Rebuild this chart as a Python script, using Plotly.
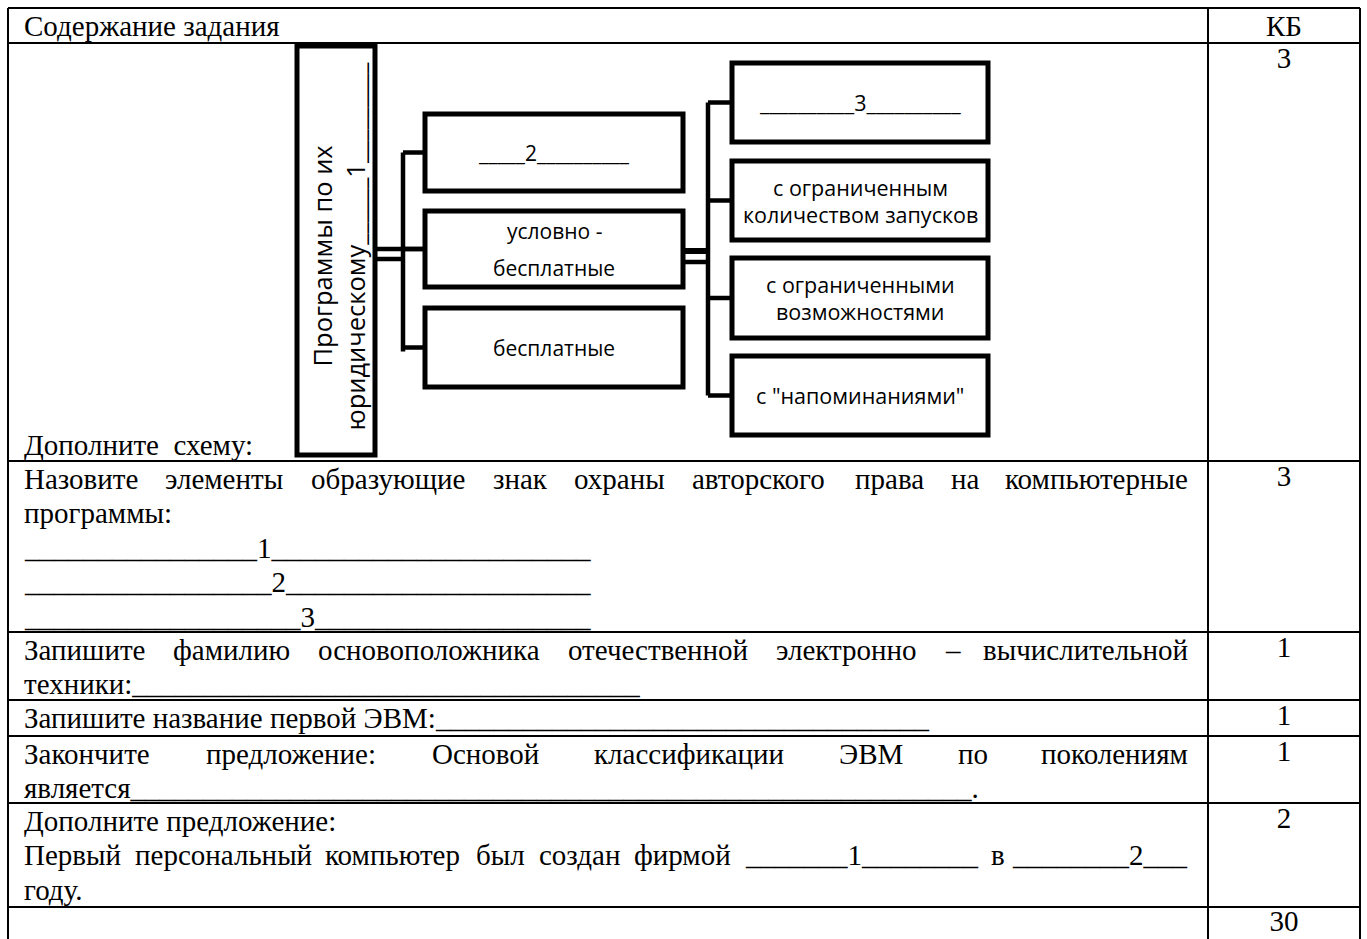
import plotly.graph_objects as go

# ---------------- data ----------------
header_texts = ["Содержание задания", "КБ"]
kb_scores = ["3", "3", "1", "1", "1", "2", "30"]

scheme_caption = "Дополните\u00a0 схему:"
scheme_root = ["Программы по их", "юридическому______1_________"]
scheme_level1 = [["_____2__________"], ["условно -", "бесплатные"], ["бесплатные"]]
scheme_level2 = [["__________3__________"], ["с ограниченным", "количеством запусков"],
                 ["с ограниченными", "возможностями"], ['с "напоминаниями"']]

row_copyright = [
    ("Назовите элементы образующие знак охраны авторского права на компьютерные", True),
    ("программы:", False),
    ("_" * 16 + "1" + "_" * 22, False),
    ("_" * 17 + "2" + "_" * 21, False),
    ("_" * 19 + "3" + "_" * 19, False),
]
row_founder = [
    ("Запишите фамилию основоположника отечественной электронно – вычислительной", True),
    ("техники:" + "_" * 35, False),
]
row_first_computer = [
    ("Запишите название первой ЭВМ:" + "_" * 34, False),
]
row_generations = [
    ("Закончите предложение: Основой классификации ЭВМ по поколениям", True),
    ("является" + "_" * 58 + ".", False),
]
row_pc = [
    ("Дополните предложение:", False),
    ("Первый персональный компьютер был создан фирмой _______1________ в ________2___", True),
    ("году.", False),
]
row_total = []
task_rows = [row_copyright, row_founder, row_first_computer, row_generations, row_pc, row_total]

# ---------------- layout constants ----------------
W, H = 1367, 939
SERIF = "Liberation Serif"
SANS = "Open Sans"
FS = 29
DS = 21
X_LEFT, X_DIV, X_RIGHT = 8, 1208, 1360
ROW_BOUNDS = [8, 43, 461, 632, 700, 736, 803, 907, 939]
TX0, TX1 = 22, 1190
LINE0, PITCH = 17.5, 34.5

# approximate Times glyph widths (em) for justification
CW = {
    'а': .444, 'б': .509, 'в': .472, 'г': .410, 'д': .509, 'е': .444, 'ж': .691, 'з': .395,
    'и': .535, 'й': .535, 'к': .486, 'л': .499, 'м': .633, 'н': .535, 'о': .500, 'п': .535,
    'р': .500, 'с': .444, 'т': .437, 'у': .500, 'ф': .648, 'х': .500, 'ц': .535, 'ч': .503,
    'ш': .770, 'щ': .770, 'ъ': .517, 'ы': .672, 'ь': .456, 'э': .429, 'ю': .747, 'я': .474,
    'З': .501, 'Н': .722, 'П': .722, 'О': .722, 'Э': .653, 'В': .667, 'М': .889, 'Д': .682,
    '_': .5, '–': .5, ':': .278, '.': .25, ' ': .25,
}


def tw(s):
    return sum(CW.get(c, .5) for c in s) * FS


fig = go.Figure()
ann = []
shapes = []


def line(x0, y0, x1, y1, w=2):
    shapes.append(dict(type="line", x0=x0, y0=y0, x1=x1, y1=y1, xref="x", yref="y",
                       line=dict(color="black", width=w)))


def text(x, y, s, xa="left", font=SERIF, size=FS, angle=0):
    ann.append(dict(x=x, y=y, xref="x", yref="y", text=s, showarrow=False,
                    xanchor=xa, yanchor="middle", textangle=angle,
                    font=dict(family=font, size=size, color="black")))


# ---------------- table grid ----------------
line(X_LEFT, ROW_BOUNDS[0], X_LEFT, H + 5)
line(X_RIGHT, ROW_BOUNDS[0], X_RIGHT, H + 5)
line(X_DIV, ROW_BOUNDS[0], X_DIV, H + 5)
for yb in ROW_BOUNDS[:-1]:
    line(X_LEFT, yb, X_RIGHT, yb)

# header
text(TX0, ROW_BOUNDS[0] + LINE0, header_texts[0])
text((X_DIV + X_RIGHT) / 2, ROW_BOUNDS[0] + LINE0, header_texts[1], xa="center")

# scheme caption
text(TX0, ROW_BOUNDS[2] - 16, scheme_caption)

# task rows
for r, rows in enumerate(task_rows):
    top = ROW_BOUNDS[r + 2]
    for i, (s, just) in enumerate(rows):
        y = top + LINE0 + PITCH * i
        if just:
            words = s.split(" ")
            widths = [tw(w) for w in words]
            gap = (TX1 - TX0 - sum(widths)) / (len(words) - 1)
            x = TX0
            for k, (w, wd) in enumerate(zip(words, widths)):
                if k == len(words) - 1:
                    text(TX1, y, w, xa="right")
                else:
                    text(x, y, w)
                x += wd + gap
        else:
            text(TX0, y, s)

# KB scores via a text trace
kb_rows = [1, 2, 3, 4, 5, 6, 7]
kb_y = [ROW_BOUNDS[r] + LINE0 for r in kb_rows]
kb_y[-1] = (ROW_BOUNDS[7] + ROW_BOUNDS[8]) / 2 + 1
fig.add_trace(go.Scatter(
    x=[(X_DIV + X_RIGHT) / 2] * len(kb_scores),
    y=kb_y,
    text=kb_scores, mode="text", textposition="middle center",
    textfont=dict(family=SERIF, size=FS, color="black"), hoverinfo="skip"))

# ---------------- scheme ----------------
ROOT = (297, 46, 375, 455)
L1_X = (425, 683)
L1_Y = [(114, 191), (211, 287), (308, 387)]
L2_X = (732, 988)
L2_Y = [(63, 142), (161, 240), (258, 338), (356, 435)]
BUS1, BUS2 = 403, 708
BW, CWID = 5, 4.5


def rect(x0, y0, x1, y1):
    shapes.append(dict(type="rect", x0=x0, y0=y0, x1=x1, y1=y1, xref="x", yref="y",
                       line=dict(color="black", width=BW), fillcolor="white"))


rect(*ROOT)
cx_root = (ROOT[0] + ROOT[2]) / 2
cy_root = (ROOT[1] + ROOT[3]) / 2
text(cx_root - 15, cy_root + 6, scheme_root[0], xa="center", font=SANS, size=25.5, angle=-90)
text(cx_root + 18, cy_root - 4, scheme_root[1], xa="center", font=SANS, size=25.5, angle=-90)

l1_mid = [(a + b) / 2 for a, b in L1_Y]
line(BUS1, l1_mid[0], BUS1, l1_mid[-1] + 4, CWID)
for m in l1_mid:
    line(BUS1, m, L1_X[0], m, CWID)
line(ROOT[2], l1_mid[1], L1_X[0], l1_mid[1], CWID)
line(ROOT[2], l1_mid[1] + 10, BUS1, l1_mid[1] + 10, CWID)
for (y0, y1), labels in zip(L1_Y, scheme_level1):
    rect(L1_X[0], y0, L1_X[1], y1)
    cy = (y0 + y1) / 2
    sp = 37
    for j, s in enumerate(labels):
        yy = cy + (j - (len(labels) - 1) / 2) * sp
        text((L1_X[0] + L1_X[1]) / 2, yy, s, xa="center", font=SANS, size=DS)

l2_mid = [(a + b) / 2 for a, b in L2_Y]
line(BUS2, l2_mid[0], BUS2, l2_mid[-1], CWID)
for m in l2_mid:
    line(BUS2, m, L2_X[0], m, CWID)
line(L1_X[1], l1_mid[1] + 2, BUS2, l1_mid[1] + 2, 6)
line(L1_X[1], l1_mid[1] + 13, BUS2, l1_mid[1] + 13, CWID)
for (y0, y1), labels in zip(L2_Y, scheme_level2):
    rect(L2_X[0], y0, L2_X[1], y1)
    cy = (y0 + y1) / 2
    sp = 27
    for j, s in enumerate(labels):
        yy = cy + (j - (len(labels) - 1) / 2) * sp
        text((L2_X[0] + L2_X[1]) / 2, yy, s, xa="center", font=SANS, size=DS + 0.5)

fig.update_layout(
    width=W, height=H, margin=dict(l=0, r=0, t=0, b=0),
    paper_bgcolor="white", plot_bgcolor="white", showlegend=False,
    xaxis=dict(range=[0, W], visible=False, fixedrange=True),
    yaxis=dict(range=[H, 0], visible=False, fixedrange=True),
    shapes=shapes, annotations=ann,
)
fig.write_html("out.html", config={"displayModeBar": False},
               post_script="document.body.style.margin='0px';document.body.style.overflow='hidden';")
